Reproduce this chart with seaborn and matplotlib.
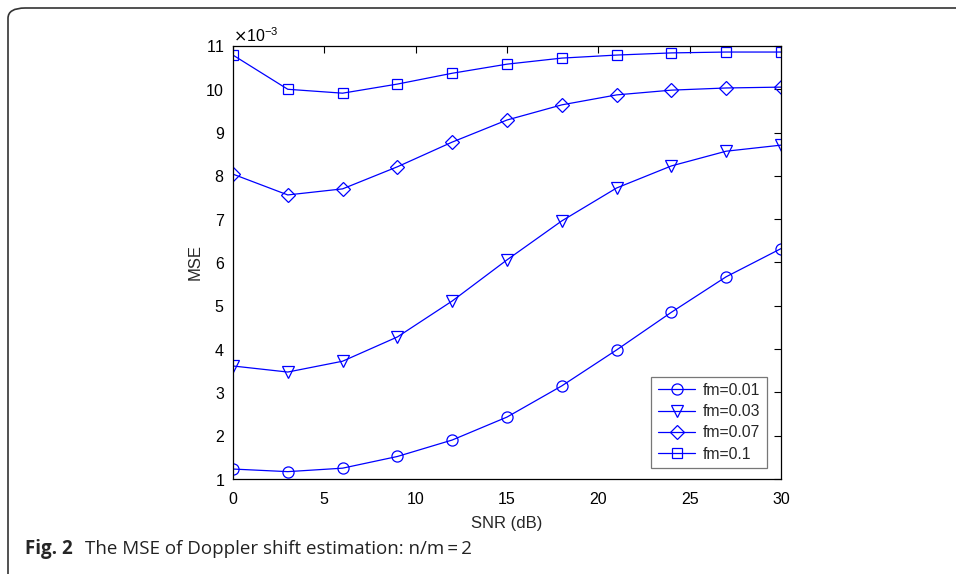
import numpy as np
import pandas as pd
import matplotlib
matplotlib.use("Agg")
import matplotlib.pyplot as plt
import seaborn as sns
from matplotlib.ticker import ScalarFormatter
from matplotlib.patches import FancyBboxPatch

# SNR values (dB)
snr = [0, 3, 6, 9, 12, 15, 18, 21, 24, 27, 30]

# MSE values, in units of 1e-3
mse_001 = [1.23, 1.17, 1.25, 1.52, 1.90, 2.43, 3.15, 3.98, 4.85, 5.67, 6.32]
mse_003 = [3.61, 3.47, 3.72, 4.28, 5.11, 6.06, 6.96, 7.72, 8.23, 8.57, 8.71]
mse_007 = [8.04, 7.56, 7.70, 8.21, 8.78, 9.29, 9.64, 9.87, 9.98, 10.03, 10.05]
mse_01 = [10.79, 10.00, 9.91, 10.12, 10.37, 10.58, 10.72, 10.79, 10.84, 10.86, 10.86]

labels = ["fm=0.01", "fm=0.03", "fm=0.07", "fm=0.1"]
markers = ["o", "v", "D", "s"]
msizes = [8, 8.5, 7, 7]
series = [mse_001, mse_003, mse_007, mse_01]

sns.set_theme(style="white")
plt.rcParams["font.family"] = ["Liberation Sans", "DejaVu Sans"]

fig = plt.figure(figsize=(9.56, 5.74), dpi=100)
ax = fig.add_axes([0.2437, 0.1655, 0.5732, 0.7544])

for vals, lab, mk, ms in zip(series, labels, markers, msizes):
    df = pd.DataFrame({"snr": snr, "mse": np.array(vals) * 1e-3})
    sns.lineplot(data=df, x="snr", y="mse", ax=ax, color="blue", linewidth=0.9,
                 marker=mk, markersize=ms, markerfacecolor="none",
                 markeredgecolor="blue", markeredgewidth=0.9, label=lab)

ax.set_xlim(0, 30)
ax.set_ylim(1e-3, 11e-3)
ax.set_xticks(np.arange(0, 31, 5))
ax.set_yticks(np.arange(1, 12) * 1e-3)
fmt = ScalarFormatter(useMathText=True)
fmt.set_powerlimits((-3, -3))
ax.yaxis.set_major_formatter(fmt)
ax.yaxis.get_offset_text().set_fontsize(11.5)

ax.tick_params(direction="in", length=5, width=0.8, labelsize=11.5,
               top=True, right=True, colors="black")
ax.tick_params(axis="x", pad=9)
ax.tick_params(axis="y", pad=6)
for sp in ax.spines.values():
    sp.set_color("black")
    sp.set_linewidth(0.9)

ax.set_xlabel("SNR (dB)", fontsize=12, labelpad=7)
ax.set_ylabel("MSE", fontsize=12, labelpad=2)

leg = ax.legend(loc="lower right", bbox_to_anchor=(0.9745, 0.0254), fontsize=11.3,
                frameon=True, fancybox=False, handlelength=2.4, borderaxespad=0,
                borderpad=0.4, labelspacing=0.4, handletextpad=0.5)
leg.get_frame().set_edgecolor("#555555")
leg.get_frame().set_linewidth(0.9)

# page frame with rounded corners
frame = FancyBboxPatch((8 / 956, -20 / 574), 1.2, (574 - 8 + 20) / 574,
                       boxstyle="round,pad=0,rounding_size=0.018",
                       transform=fig.transFigure, fill=False,
                       edgecolor="#333333", linewidth=1.2, clip_on=False)
fig.patches.append(frame)

fig.text(25 / 956, 1 - 549 / 574, "Fig. 2", fontsize=13.5, fontweight="bold",
         family=["Open Sans", "DejaVu Sans"], va="center", ha="left")
fig.text(85 / 956, 1 - 549 / 574, "The MSE of Doppler shift estimation: n/m\u2009=\u20092",
         fontsize=13.5, family=["Open Sans", "DejaVu Sans"], va="center", ha="left",
         color="#222222")

fig.savefig("out.png", dpi=100)
